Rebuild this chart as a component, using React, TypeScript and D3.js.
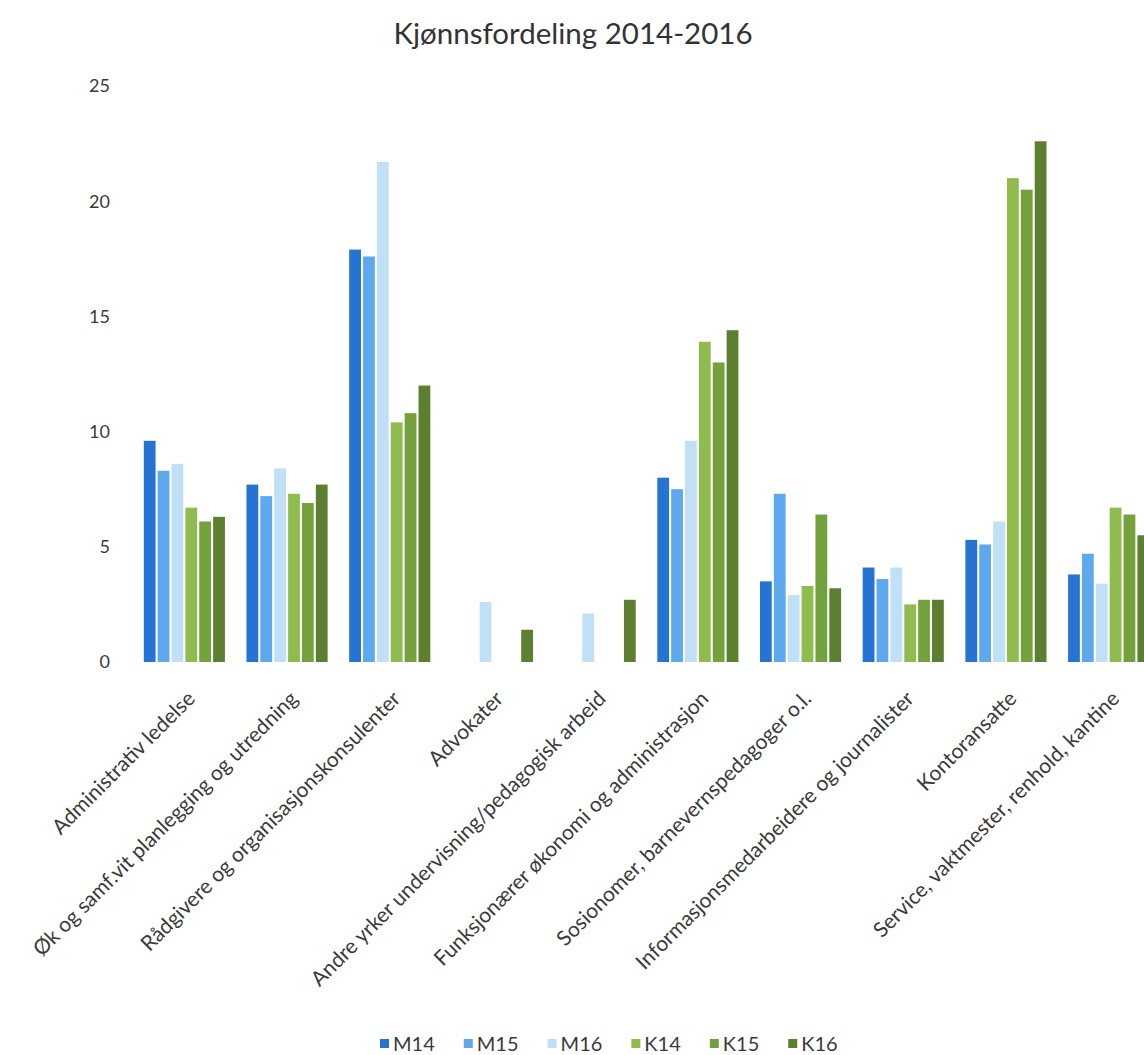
import * as d3 from 'd3';
import { useEffect, useRef } from 'react';

const categories = [
  'Administrativ ledelse',
  'Øk og samf.vit planlegging og utredning',
  'Rådgivere og organisasjonskonsulenter',
  'Advokater',
  'Andre yrker undervisning/pedagogisk arbeid',
  'Funksjonærer økonomi og administrasjon',
  'Sosionomer, barnevernspedagoger o.l.',
  'Informasjonsmedarbeidere og journalister',
  'Kontoransatte',
  'Service, vaktmester, renhold, kantine'
];

const seriesNames = ['M14', 'M15', 'M16', 'K14', 'K15', 'K16'];

const M14 = [9.6, 7.7, 17.9, 0, 0, 8.0, 3.5, 4.1, 5.3, 3.8];
const M15 = [8.3, 7.2, 17.6, 0, 0, 7.5, 7.3, 3.6, 5.1, 4.7];
const M16 = [8.6, 8.4, 21.7, 2.6, 2.1, 9.6, 2.9, 4.1, 6.1, 3.4];
const K14 = [6.7, 7.3, 10.4, 0, 0, 13.9, 3.3, 2.5, 21.0, 6.7];
const K15 = [6.1, 6.9, 10.8, 0, 0, 13.0, 6.4, 2.7, 20.5, 6.4];
const K16 = [6.3, 7.7, 12.0, 1.4, 2.7, 14.4, 3.2, 2.7, 22.6, 5.5];

const yTicks = [0, 5, 10, 15, 20, 25];

const colors = ['#2574d4', '#5ea8ee', '#bfe0f7', '#8fbb4f', '#73a23c', '#5d7f30'];

export default function App() {
  const ref = useRef<HTMLDivElement>(null);

  useEffect(() => {
    document.body.style.margin = '0';
    const width = 1144;
    const height = 1055;
    const font = 'Lato, "Open Sans", sans-serif';
    const textColor = '#3a3a3a';
    const plot = { left: 133, right: 1160, top: 86, bottom: 662 };

    const values = [M14, M15, M16, K14, K15, K16];

    ref.current!.innerHTML = '';
    const svg = d3
      .select(ref.current)
      .append('svg')
      .attr('width', width)
      .attr('height', height)
      .style('display', 'block')
      .style('background', '#fff');

    const x0 = d3
      .scaleBand()
      .domain(categories)
      .range([plot.left, plot.right])
      .paddingInner(0.21)
      .paddingOuter(0.105);

    const x1 = d3
      .scaleBand()
      .domain(seriesNames)
      .range([0, x0.bandwidth()])
      .paddingInner(0.15);

    const y = d3.scaleLinear().domain([0, 25]).range([plot.bottom, plot.top]);

    // title
    svg
      .append('text')
      .attr('x', 573)
      .attr('y', 44)
      .attr('text-anchor', 'middle')
      .attr('font-family', font)
      .attr('font-size', 29.5)
      .attr('fill', '#333')
      .text('Kjønnsfordeling 2014-2016');

    // y tick labels
    svg
      .append('g')
      .selectAll('text')
      .data(yTicks)
      .join('text')
      .attr('x', 110)
      .attr('y', d => y(d))
      .attr('dy', '0.35em')
      .attr('text-anchor', 'end')
      .attr('font-family', font)
      .attr('font-size', 18)
      .attr('fill', textColor)
      .text(d => d);

    // bars
    const groups = svg
      .append('g')
      .selectAll('g')
      .data(categories)
      .join('g')
      .attr('transform', d => `translate(${x0(d)},0)`);

    groups
      .selectAll('rect')
      .data((_, i) => seriesNames.map((s, j) => ({ s, j, v: values[j][i] })))
      .join('rect')
      .filter(d => d.v > 0)
      .attr('x', d => x1(d.s)!)
      .attr('y', d => y(d.v))
      .attr('width', x1.bandwidth())
      .attr('height', d => y(0) - y(d.v))
      .attr('fill', d => colors[d.j]);

    // category labels
    svg
      .append('g')
      .selectAll('text')
      .data(categories)
      .join('text')
      .attr('transform', d => `translate(${x0(d)! + x0.bandwidth() / 2 + 12},${plot.bottom + 38}) rotate(-45)`)
      .attr('text-anchor', 'end')
      .attr('font-family', font)
      .attr('font-size', 21)
      .attr('fill', textColor)
      .text(d => d);

    // legend
    const legend = svg.append('g').attr('transform', `translate(380,${height - 4})`);
    let offset = 0;
    seriesNames.forEach((s, j) => {
      const item = legend.append('g').attr('transform', `translate(${offset},0)`);
      item
        .append('rect')
        .attr('x', 0)
        .attr('y', -12)
        .attr('width', 9)
        .attr('height', 9)
        .attr('fill', colors[j]);
      const t = item
        .append('text')
        .attr('x', 13)
        .attr('y', 0)
        .attr('font-family', font)
        .attr('font-size', 20)
        .attr('fill', textColor)
        .text(s);
      const w = (t.node() as SVGTextElement).getComputedTextLength();
      offset += 13 + w + 29;
    });
  }, []);

  return <div ref={ref}></div>;
}
